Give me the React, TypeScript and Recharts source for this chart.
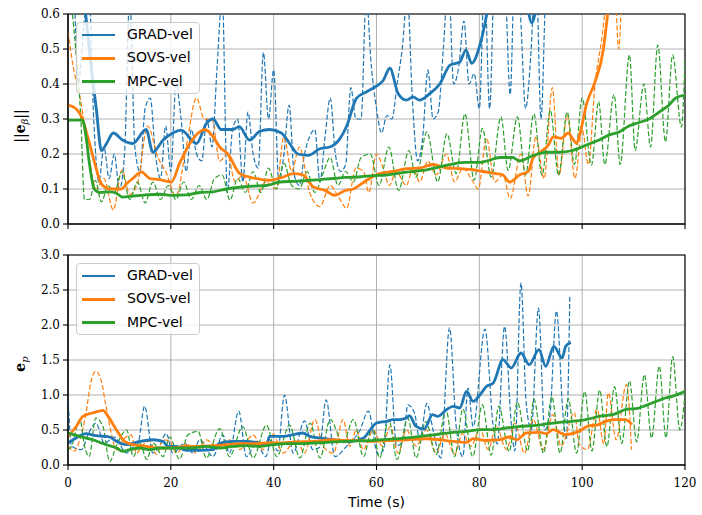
import React from 'react';
import { LineChart, Line, XAxis, YAxis, CartesianGrid, ReferenceArea } from 'recharts';

// ---------- colours ----------
const BLUE = '#1f77b4';
const ORANGE = '#ff7f0e';
const GREEN = '#2ca02c';

// ---------- tick labels ----------
const xTicks = [0, 20, 40, 60, 80, 100, 120];
const yTicksTop = [0, 0.1, 0.2, 0.3, 0.4, 0.5, 0.6];
const yTicksBot = [0, 0.5, 1.0, 1.5, 2.0, 2.5, 3.0];
const legendNames = ['GRAD-vel', 'SOVS-vel', 'MPC-vel'];

// ================= TOP PLOT (||e_beta||) =================
// GRAD-vel thick
const gradTopT = [0, 2, 3.3, 4.5, 5.5, 6.5, 7.5, 8.8, 10.6, 12.6, 15.2, 16.5, 18.5, 20.4, 22, 25, 26.9, 28.2, 29.8, 32, 33.3, 35.3, 37.3, 39.2, 41.5, 43.1, 44.7, 46.7, 49, 50.9, 52.9, 54.2, 56.1, 58.1, 60, 61.3, 62.6, 64.2, 65.8, 67.1, 68.4, 70.4, 72.3, 74.3, 76.2, 77.4, 78.5, 80.1, 81.1, 81.7, 83, 85, 87, 89, 90.2, 91.5, 93, 95, 97.8];
const gradTopV = [0.95, 0.8, 0.62, 0.45, 0.33, 0.21, 0.23, 0.26, 0.24, 0.23, 0.27, 0.205, 0.24, 0.26, 0.268, 0.23, 0.287, 0.3, 0.27, 0.27, 0.278, 0.24, 0.265, 0.27, 0.26, 0.23, 0.2, 0.196, 0.215, 0.22, 0.244, 0.28, 0.359, 0.378, 0.394, 0.41, 0.445, 0.373, 0.354, 0.363, 0.354, 0.373, 0.4, 0.454, 0.463, 0.497, 0.459, 0.511, 0.573, 0.62, 0.7, 0.75, 0.72, 0.65, 0.575, 0.65, 0.75, 0.8, 0.85];
// GRAD-vel dashed
const gradDashTopT = [0, 1, 2, 3, 4, 5, 6, 7, 8, 9, 10, 11, 12, 13, 14, 15, 16, 17, 18, 19, 20, 21, 22, 23, 24, 25, 26, 27, 28, 29, 30, 31, 32, 33, 34, 35, 36, 37, 38, 39, 40, 41, 42, 43, 44, 45, 46, 47, 48, 49, 50, 51, 52, 53, 54, 55, 56, 57, 58, 59, 60, 61, 62, 63, 64, 65, 66, 67, 68, 69, 70, 71, 72, 73, 74, 75, 76, 77, 78, 79, 80, 81, 82, 83, 84, 85, 86, 87, 88, 89, 90, 91, 92, 93, 94, 95, 96, 97, 98];
const gradDashTopV = [0.95, 0.75, 0.4, 0.55, 0.7, 0.3, 0.12, 0.22, 0.13, 0.2, 0.1, 0.2, 0.65, 0.22, 0.15, 0.33, 0.36, 0.2, 0.13, 0.28, 0.15, 0.4, 0.3, 0.15, 0.27, 0.2, 0.18, 0.3, 0.22, 0.45, 0.65, 0.09, 0.27, 0.3, 0.12, 0.32, 0.2, 0.16, 0.49, 0.3, 0.44, 0.12, 0.2, 0.34, 0.14, 0.11, 0.2, 0.25, 0.27, 0.12, 0.25, 0.36, 0.2, 0.15, 0.17, 0.39, 0.3, 0.3, 0.65, 0.45, 0.33, 0.26, 0.31, 0.3, 0.4, 0.5, 0.65, 0.35, 0.18, 0.25, 0.44, 0.3, 0.32, 0.5, 0.7, 0.4, 0.45, 0.58, 0.4, 0.43, 0.33, 0.7, 0.33, 0.75, 0.8, 0.7, 0.37, 0.8, 0.6, 0.33, 0.48, 0.75, 0.3, 0.7, 0.8, 0.9, 0.85, 0.9, 0.95];
// SOVS-vel thick
const sovsTopT = [0, 1.5, 2.8, 4, 5.4, 6.4, 8.1, 10.4, 11.4, 12.6, 14.3, 15.9, 17.8, 20.1, 21.7, 23.7, 25.6, 26.6, 28.2, 29.5, 31.1, 33.4, 35.3, 37.3, 39.2, 41.8, 43.8, 45.7, 47.7, 50, 51.9, 53.8, 55.5, 58.1, 60.6, 63.2, 65.8, 68.4, 71, 73.6, 76.2, 78.8, 80.7, 83.3, 84.6, 85.9, 87.8, 89.5, 90.5, 91.8, 93.4, 94.4, 96, 97.3, 98.3, 98.9, 99.6, 100.9, 102.5, 104.1, 104.8, 106, 108, 110];
const sovsTopV = [0.34, 0.33, 0.3, 0.24, 0.163, 0.116, 0.1, 0.1, 0.115, 0.13, 0.149, 0.13, 0.127, 0.12, 0.173, 0.23, 0.263, 0.27, 0.25, 0.22, 0.2, 0.144, 0.134, 0.128, 0.125, 0.134, 0.144, 0.14, 0.106, 0.096, 0.082, 0.095, 0.1, 0.125, 0.144, 0.15, 0.158, 0.16, 0.17, 0.16, 0.158, 0.155, 0.15, 0.144, 0.14, 0.12, 0.14, 0.15, 0.19, 0.205, 0.225, 0.249, 0.245, 0.26, 0.24, 0.23, 0.26, 0.345, 0.406, 0.497, 0.58, 0.75, 0.95, 1.1];
// SOVS-vel dashed
const sovsDashTopT = [0, 1, 2.5, 4, 5.5, 7, 8.8, 10.5, 12, 13.5, 15.5, 17.5, 19, 21, 23, 25, 26.5, 28, 29.5, 31, 32.5, 34, 36, 38.5, 40.5, 42, 43.5, 45, 47, 49, 51, 52.5, 54.2, 56, 57.5, 58.5, 60, 61.3, 62.5, 63.8, 65.8, 67.1, 68.4, 70, 71.6, 73.6, 75.2, 76.8, 78.8, 79.8, 81.4, 83, 84.6, 86, 88.1, 89.5, 91, 92.6, 94.2, 95.5, 97.1, 98.6, 100, 101.2, 102.5, 104, 105, 106, 107.1, 108, 110];
const sovsDashTopV = [0.55, 0.45, 0.35, 0.2, 0.1, 0.13, 0.04, 0.155, 0.085, 0.115, 0.28, 0.19, 0.15, 0.08, 0.22, 0.36, 0.3, 0.3, 0.18, 0.2, 0.12, 0.14, 0.06, 0.12, 0.1, 0.25, 0.15, 0.22, 0.09, 0.05, 0.11, 0.08, 0.045, 0.16, 0.15, 0.09, 0.2, 0.16, 0.11, 0.15, 0.11, 0.16, 0.12, 0.18, 0.14, 0.2, 0.12, 0.16, 0.12, 0.1, 0.245, 0.12, 0.14, 0.073, 0.2, 0.08, 0.25, 0.13, 0.39, 0.14, 0.31, 0.13, 0.27, 0.17, 0.4, 0.55, 0.7, 0.8, 0.5, 0.75, 0.9];
// MPC-vel thick
const mpcTopT = [0, 2.8, 3.5, 4.1, 5.1, 6.1, 8.1, 9.4, 10.6, 12.7, 15.2, 17.8, 20.4, 23, 25.6, 28.2, 30.8, 33.4, 36, 38.6, 41.2, 43.8, 46.4, 49, 51.6, 54, 57, 59.4, 62, 65.8, 69, 72.3, 74.9, 77.5, 80.1, 81.4, 84, 86.5, 87.8, 90.4, 93, 95.5, 98.1, 100.7, 103.3, 105.2, 107.2, 109.1, 111.1, 113, 115, 116.9, 118.2, 120];
const mpcTopV = [0.297, 0.297, 0.25, 0.18, 0.1, 0.09, 0.092, 0.088, 0.077, 0.08, 0.083, 0.085, 0.082, 0.083, 0.09, 0.092, 0.1, 0.105, 0.108, 0.11, 0.12, 0.122, 0.124, 0.127, 0.13, 0.133, 0.135, 0.138, 0.14, 0.148, 0.153, 0.163, 0.172, 0.176, 0.176, 0.18, 0.19, 0.19, 0.18, 0.195, 0.205, 0.205, 0.21, 0.225, 0.24, 0.254, 0.263, 0.28, 0.29, 0.3, 0.32, 0.34, 0.36, 0.368];
// MPC-vel dashed
const mpcDashTopT = [0, 0.7, 1.5, 2.5, 3.2, 4.2, 5.3, 6.5, 7.8, 9, 10.5, 12, 13.5, 15, 16.5, 18, 19.5, 21, 22.5, 24, 25.5, 27, 28.5, 30, 31.5, 33, 34.5, 36, 37.5, 39, 40.5, 42, 43.5, 45, 46.5, 48, 49.5, 51, 52.5, 54, 55.5, 57, 58.8, 60.5, 62.4, 64.3, 66.3, 67.7, 69.8, 71.9, 73.7, 75.5, 77.2, 79, 80.6, 82.3, 84.2, 85.6, 87.4, 89, 90.6, 92.2, 93.8, 95.4, 97.1, 98.5, 100, 101.8, 103.2, 104.4, 106.2, 107.4, 109.2, 110.3, 112, 113.3, 114.7, 116.2, 117.6, 119.3, 120];
const mpcDashTopV = [0.7, 0.62, 0.5, 0.3, 0.07, 0.07, 0.125, 0.063, 0.11, 0.09, 0.15, 0.07, 0.12, 0.06, 0.12, 0.07, 0.11, 0.07, 0.12, 0.07, 0.11, 0.07, 0.13, 0.14, 0.068, 0.13, 0.09, 0.15, 0.09, 0.16, 0.1, 0.173, 0.11, 0.1, 0.15, 0.09, 0.14, 0.19, 0.11, 0.15, 0.12, 0.19, 0.2, 0.11, 0.22, 0.096, 0.21, 0.134, 0.263, 0.12, 0.258, 0.144, 0.315, 0.125, 0.273, 0.134, 0.306, 0.153, 0.306, 0.14, 0.315, 0.139, 0.325, 0.139, 0.32, 0.17, 0.36, 0.168, 0.35, 0.17, 0.37, 0.17, 0.483, 0.21, 0.4, 0.22, 0.511, 0.235, 0.483, 0.277, 0.47];

// ================= BOTTOM PLOT (e_p) =================
const gradBotT = [0, 1.6, 3.5, 5.4, 8.1, 9.4, 11.4, 14, 16.5, 18.5, 19.4, 21.1, 23, 25.6, 28.2, 29.5, 32.1, 34.7, 37.3, 38.6, 39.2, 41.8, 43.8, 45.7, 47, 49, 51.6, 54.8, 57.5, 58.8, 60, 62, 63.2, 64.5, 65.8, 66.4, 67.7, 69.3, 70.9, 71.9, 73.6, 74.9, 76.2, 77.5, 78.8, 80.1, 81.4, 82.7, 84.6, 86.2, 88.1, 89.7, 91.6, 92.9, 94.5, 96.1, 96.8, 97.8];
const gradBotV = [0.314, 0.386, 0.447, 0.419, 0.4, 0.338, 0.29, 0.338, 0.361, 0.338, 0.266, 0.266, 0.209, 0.209, 0.219, 0.314, 0.338, 0.338, 0.314, 0.29, 0.41, 0.41, 0.433, 0.457, 0.41, 0.386, 0.361, 0.338, 0.386, 0.505, 0.6, 0.624, 0.648, 0.648, 0.671, 0.705, 0.552, 0.514, 0.719, 0.695, 0.79, 0.838, 0.814, 1.052, 0.909, 1.0, 1.124, 1.171, 1.504, 1.386, 1.6, 1.433, 1.647, 1.41, 1.695, 1.529, 1.695, 1.752];
const gradDashBotT = [0, 0.7, 2.6, 4, 5.4, 7.1, 9, 11.4, 12.3, 13.6, 14.9, 16.5, 17.8, 19.1, 20.4, 22.7, 24.3, 25.6, 28.2, 30.1, 31.4, 33.2, 34.7, 36.6, 38.5, 39.5, 40.8, 42.1, 43.8, 46, 47.6, 48.9, 50.2, 51.9, 54.2, 56.8, 58.4, 60.3, 61.4, 62.6, 63.9, 65.2, 66.1, 67.4, 68.4, 69.8, 71, 72.5, 74.2, 75.5, 76.8, 77.8, 78.8, 81.1, 82.7, 83.5, 84.9, 86.2, 86.9, 88.1, 89.1, 90.1, 91.5, 92.7, 93.7, 95, 96.3, 96.9, 97.6];
const gradDashBotV = [0.98, 0.27, 0.22, 0.45, 0.6, 0.31, 0.4, 0.17, 0.24, 0.3, 0.84, 0.17, 0.27, 0.45, 0.17, 0.31, 0.17, 0.36, 0.12, 0.43, 0.17, 0.77, 0.12, 0.31, 0.12, 0.36, 0.2, 1.0, 0.17, 0.63, 0.22, 0.25, 0.93, 0.12, 0.27, 0.5, 0.77, 0.15, 0.22, 1.43, 0.27, 0.36, 0.86, 0.74, 0.36, 0.88, 0.5, 0.1, 1.96, 0.55, 0.12, 1.1, 0.55, 1.94, 0.55, 0.3, 1.98, 0.6, 0.2, 2.6, 0.9, 0.5, 2.24, 0.5, 0.7, 2.2, 0.7, 0.36, 2.43];
const sovsBotT = [0, 1.6, 2.9, 4.8, 6.8, 7.8, 9.4, 11, 12.7, 15.2, 17.8, 20.4, 23, 25.6, 28.2, 30.8, 33.4, 36, 38.6, 41.2, 43.8, 47.7, 51.6, 54, 56.8, 59.4, 62, 65.8, 69.7, 72.3, 74.9, 77.5, 78.8, 81.4, 84, 85.9, 87.3, 89.1, 91.7, 93, 94.3, 96.8, 99.4, 101, 103.2, 104.5, 106.4, 108.4, 109.7];
const sovsBotV = [0.41, 0.55, 0.695, 0.743, 0.781, 0.695, 0.505, 0.338, 0.29, 0.266, 0.243, 0.243, 0.266, 0.266, 0.276, 0.29, 0.304, 0.304, 0.314, 0.314, 0.328, 0.338, 0.361, 0.347, 0.347, 0.338, 0.35, 0.361, 0.375, 0.361, 0.338, 0.324, 0.376, 0.35, 0.361, 0.4, 0.361, 0.457, 0.467, 0.447, 0.505, 0.433, 0.481, 0.552, 0.576, 0.624, 0.648, 0.648, 0.576];
const sovsDashBotT = [0, 1.2, 2.3, 3.5, 4.4, 5.4, 6.4, 7.4, 8.4, 9.4, 10.7, 12.3, 13.3, 14.6, 15.9, 17.2, 18.5, 19.8, 21.1, 23, 24.9, 26.9, 29.2, 31.4, 33.4, 36, 37.9, 39.9, 41.8, 44.4, 46, 48, 49.6, 51.6, 53.5, 54.8, 56.1, 57.4, 59.4, 61.1, 62.7, 64.2, 65.8, 67.7, 69.7, 71.6, 73.3, 75.2, 76.7, 78.4, 80.1, 81.7, 83.3, 85.3, 86.9, 88.8, 90.5, 92.4, 94.3, 95.9, 98.5, 99.4, 101, 102.9, 104.2, 105.1, 106.6, 108.6, 109.6];
const sovsDashBotV = [0.27, 0.2, 0.36, 0.74, 1.17, 1.34, 1.22, 0.84, 0.46, 0.22, 0.36, 0.43, 0.17, 0.29, 0.34, 0.15, 0.36, 0.34, 0.17, 0.31, 0.17, 0.36, 0.24, 0.36, 0.22, 0.43, 0.22, 0.44, 0.17, 0.36, 0.17, 0.65, 0.27, 0.17, 0.65, 0.27, 0.5, 0.22, 0.5, 0.27, 0.55, 0.17, 0.5, 0.27, 0.5, 0.17, 0.45, 0.15, 0.45, 0.27, 0.52, 0.22, 0.55, 0.22, 0.6, 0.17, 0.65, 0.22, 0.72, 0.27, 0.75, 0.3, 0.22, 0.8, 0.3, 1.03, 0.36, 1.15, 0.22];
const mpcBotT = [0, 2.3, 4.8, 7.4, 9.4, 10.7, 12, 14, 15.9, 17.8, 19.8, 21.7, 24.3, 26.9, 29.5, 32.1, 34.7, 37.3, 39.9, 42.5, 45.1, 47.7, 50.2, 54.2, 59.4, 65.8, 69.7, 72.3, 74.9, 77.5, 80.1, 82.7, 85.3, 87.9, 90.4, 93, 95.5, 98.1, 100.7, 103.3, 105.9, 108.4, 111, 113.6, 116.2, 117.5, 120];
const mpcBotV = [0.457, 0.41, 0.361, 0.29, 0.243, 0.195, 0.219, 0.243, 0.219, 0.243, 0.243, 0.243, 0.243, 0.266, 0.243, 0.266, 0.276, 0.266, 0.29, 0.304, 0.304, 0.314, 0.323, 0.338, 0.352, 0.386, 0.419, 0.443, 0.467, 0.481, 0.505, 0.505, 0.529, 0.552, 0.562, 0.586, 0.61, 0.624, 0.648, 0.695, 0.719, 0.79, 0.814, 0.886, 0.957, 0.98, 1.052];
const mpcDashBotT = [0, 0.7, 2.3, 3.3, 4.1, 5.4, 6.8, 8.1, 9.4, 11.4, 12.7, 14, 15.3, 16.6, 18.5, 19.8, 21.7, 23.3, 25.3, 26.9, 29.5, 31.4, 34, 36, 38.6, 40.6, 43.1, 45.1, 47.1, 49, 51, 53.5, 55.5, 57.5, 59.2, 60.6, 62.4, 64, 66.1, 67.7, 69.6, 71.6, 73.5, 75.2, 76.8, 78.7, 80.6, 82.3, 83.8, 85.8, 87.4, 89.4, 90.6, 92.5, 94.1, 95.7, 97.3, 98.9, 100.5, 101.9, 103.4, 104.8, 106.3, 107.7, 109.2, 110.6, 112.1, 113.5, 115, 116.3, 117.6, 119, 120];
const mpcDashBotV = [0.22, 0.27, 0.65, 0.24, 0.12, 0.67, 0.55, 0.05, 0.27, 0.5, 0.12, 0.31, 0.08, 0.31, 0.12, 0.4, 0.08, 0.43, 0.48, 0.1, 0.52, 0.12, 0.55, 0.1, 0.57, 0.12, 0.57, 0.1, 0.6, 0.1, 0.65, 0.31, 0.65, 0.12, 0.55, 0.1, 0.65, 0.08, 0.67, 0.1, 0.62, 0.15, 0.79, 0.12, 0.8, 0.12, 0.86, 0.14, 0.84, 0.19, 0.9, 0.2, 0.94, 0.17, 0.98, 0.17, 0.95, 0.17, 1.05, 0.2, 1.07, 0.26, 1.12, 0.31, 1.2, 0.33, 1.29, 0.385, 1.41, 0.39, 1.55, 0.5, 1.0];

const pts = (t: number[], v: number[]) => t.map((x, i) => ({ t: x, v: v[i] }));

const SERIF = 'DejaVu Serif';
const SANS = 'DejaVu Sans';
const tickStyle = { fill: '#000', fontSize: 12, fontFamily: SERIF };

type S = { t: number[]; v: number[]; color: string; dashed: boolean };

function Panel(props: {
  series: S[];
  yMax: number;
  yTicks: number[];
  height: number;
  top: number;
  marginTop: number;
  xAxisHeight: number;
  showXLabels: boolean;
}) {
  const { series, yMax, yTicks, height, top, marginTop, xAxisHeight, showXLabels } = props;
  return (
    <div style={{ position: 'absolute', left: 0, top }}>
      <LineChart width={702} height={height} margin={{ top: marginTop, right: 17, bottom: 0, left: 0 }} style={{ overflow: 'visible' }}>
        <CartesianGrid stroke="#b0b0b0" strokeWidth={1} />
        <XAxis
          dataKey="t"
          type="number"
          domain={[0, 120]}
          ticks={xTicks}
          allowDataOverflow
          interval={0}
          height={xAxisHeight}
          tickSize={5}
          tickMargin={8}
          tick={tickStyle}
          tickFormatter={showXLabels ? (v: number) => String(v) : () => ''}
          axisLine={{ stroke: '#000', strokeWidth: 1.1 }}
          tickLine={{ stroke: '#000', strokeWidth: 1.1 }}
        />
        <YAxis
          type="number"
          domain={[0, yMax]}
          ticks={yTicks}
          allowDataOverflow
          interval={0}
          width={68}
          tickSize={5}
          tickMargin={3}
          tick={tickStyle}
          tickFormatter={(v: number) => v.toFixed(1)}
          axisLine={{ stroke: '#000', strokeWidth: 1.1 }}
          tickLine={{ stroke: '#000', strokeWidth: 1.1 }}
        />
        <ReferenceArea x1={0} x2={120} y1={0} y2={yMax} fill="none" stroke="#000" strokeWidth={1.1} />
        {series.map((s, i) => (
          <Line
            key={i}
            data={pts(s.t, s.v)}
            dataKey="v"
            type="monotone"
            stroke={s.color}
            strokeWidth={s.dashed ? 1.2 : 2.8}
            strokeDasharray={s.dashed ? '5 2.2' : undefined}
            dot={false}
            activeDot={false}
            isAnimationActive={false}
          />
        ))}
      </LineChart>
    </div>
  );
}

function LegendBox({ left, top }: { left: number; top: number }) {
  const colors = [BLUE, ORANGE, GREEN];
  return (
    <div
      style={{
        position: 'absolute',
        left,
        top,
        width: 124,
        height: 72,
        background: 'rgba(255,255,255,0.8)',
        border: '1px solid #cccccc',
        borderRadius: 4,
        boxSizing: 'border-box',
      }}
    >
      {legendNames.map((n, i) => (
        <div key={n}>
          <div
            style={{
              position: 'absolute',
              left: 5,
              top: 12 + i * 23.3 - 1.4,
              width: 33,
              height: 2.8,
              background: colors[i],
            }}
          />
          <div
            style={{
              position: 'absolute',
              left: 50,
              top: 12 + i * 23.3 - 9,
              fontFamily: SANS,
              fontSize: 14,
              lineHeight: '17px',
              color: '#000',
              whiteSpace: 'nowrap',
            }}
          >
            {n}
          </div>
        </div>
      ))}
    </div>
  );
}

export default function App() {
  const topSeries: S[] = [
    { t: gradDashTopT, v: gradDashTopV, color: BLUE, dashed: true },
    { t: sovsDashTopT, v: sovsDashTopV, color: ORANGE, dashed: true },
    { t: mpcDashTopT, v: mpcDashTopV, color: GREEN, dashed: true },
    { t: gradTopT, v: gradTopV, color: BLUE, dashed: false },
    { t: sovsTopT, v: sovsTopV, color: ORANGE, dashed: false },
    { t: mpcTopT, v: mpcTopV, color: GREEN, dashed: false },
  ];
  const botSeries: S[] = [
    { t: gradDashBotT, v: gradDashBotV, color: BLUE, dashed: true },
    { t: sovsDashBotT, v: sovsDashBotV, color: ORANGE, dashed: true },
    { t: mpcDashBotT, v: mpcDashBotV, color: GREEN, dashed: true },
    { t: gradBotT, v: gradBotV, color: BLUE, dashed: false },
    { t: sovsBotT, v: sovsBotV, color: ORANGE, dashed: false },
    { t: mpcBotT, v: mpcBotV, color: GREEN, dashed: false },
  ];
  return (
    <div style={{ position: 'absolute', left: 0, top: 0, width: 702, height: 515, background: '#fff', overflow: 'hidden' }}>
      <Panel series={topSeries} yMax={0.6} yTicks={yTicksTop} height={240} top={0} marginTop={14} xAxisHeight={16} showXLabels={false} />
      <Panel series={botSeries} yMax={3.0} yTicks={yTicksBot} height={275} top={240} marginTop={15} xAxisHeight={50} showXLabels={true} />
      <svg width={702} height={515} style={{ position: 'absolute', left: 0, top: 0, pointerEvents: 'none' }}>
        <text x={25} y={126} transform="rotate(-90 25 126)" textAnchor="middle" fontFamily={SERIF} fontSize={14} fill="#000">
          ||<tspan fontWeight="bold">e</tspan>
          <tspan fontSize={10} fontStyle="italic" dy={3}>β</tspan>
          <tspan dy={-3}>||</tspan>
        </text>
        <text x={25} y={364} transform="rotate(-90 25 364)" textAnchor="middle" fontFamily={SERIF} fontSize={14} fill="#000">
          <tspan fontWeight="bold">e</tspan>
          <tspan fontSize={10} fontStyle="italic" dy={3}>p</tspan>
        </text>
        <text x={376.5} y={507} textAnchor="middle" fontFamily={SANS} fontSize={14} fill="#000">
          Time (s)
        </text>
      </svg>
      <LegendBox left={76} top={22} />
      <LegendBox left={76} top={263} />
    </div>
  );
}
